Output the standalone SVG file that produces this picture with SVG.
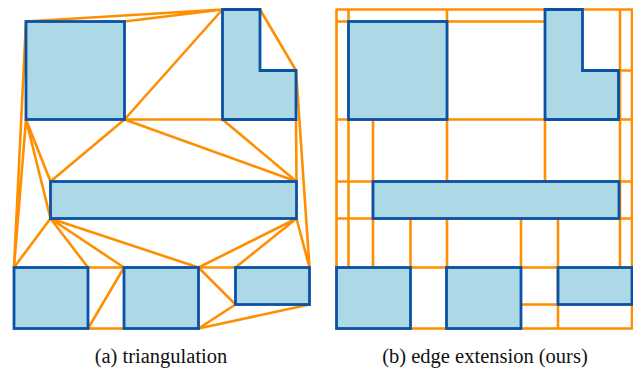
<svg xmlns="http://www.w3.org/2000/svg" width="633" height="372" viewBox="0 0 633 372">
  <style>
    .edge { stroke: #FF8F00; stroke-width: 2.6; fill: none; stroke-linecap: round; }
    .obs { fill: #ADD8E6; stroke: #0A52A5; stroke-width: 2.8; stroke-linejoin: miter; }
    .cap { font-family: "Liberation Serif", "Times New Roman", serif; font-size: 20.5px; fill: #111; text-anchor: middle; }
  </style>

  <!-- (a) triangulation -->
  <g id="panel-a">
    <g id="connectors-a">
      <path class="edge" d="
        M26,21.5 L222.5,9.5
        M124.5,21.5 L222.5,9.5
        M222.5,9.5 L124.5,119.5
        M260,9.5 L296,70.5
        M124.5,119.5 L222.5,119.5
        M124.5,119.5 L296.5,181.5
        M222.5,119.5 L296.5,181.5
        M296,119.5 L296.5,181.5
        M296,70.5 L309.5,267.5
        M296.5,218.5 L309.5,267.5
        M26,21.5 L14,267.5
        M26,119.5 L14,267.5
        M26,119.5 L50.5,181.5
        M26,119.5 L50.5,218.5
        M124.5,119.5 L50.5,181.5
        M50.5,218.5 L14,267.5
        M50.5,218.5 L88,267.5
        M50.5,218.5 L124,267.5
        M50.5,218.5 L198.5,267.5
        M296.5,218.5 L198.5,267.5
        M296.5,218.5 L235.5,267.5
        M88,267.5 L124,267.5
        M198.5,267.5 L235.5,267.5
        M124,267.5 L88,328.5
        M88,328.5 L124,328.5
        M198.5,267.5 L235.5,304.5
        M198.5,328.5 L235.5,304.5
        M198.5,328.5 L309.5,304.5"/>
    </g>
    <g id="a-square"><rect class="obs" x="26" y="21.5" width="98.5" height="98"/></g>
    <g id="a-lshape"><polygon class="obs" points="222.5,9.5 260,9.5 260,70.5 296,70.5 296,119.5 222.5,119.5"/></g>
    <g id="a-bar"><rect class="obs" x="50.5" y="181.5" width="246" height="37"/></g>
    <g id="a-box1"><rect class="obs" x="14" y="267.5" width="74" height="61"/></g>
    <g id="a-box2"><rect class="obs" x="124" y="267.5" width="74.5" height="61"/></g>
    <g id="a-box3"><rect class="obs" x="235.5" y="267.5" width="74" height="37"/></g>
    <text class="cap" x="161" y="363">(a) triangulation</text>
  </g>

  <!-- (b) edge extension -->
  <g id="panel-b" transform="translate(322.5,0)">
    <g id="connectors-b">
      <path class="edge" d="
        M14,9.5 L309.5,9.5
        M14,9.5 L14,267.5
        M309.5,9.5 L309.5,328.5
        M14,328.5 L309.5,328.5
        M14,21.5 L222.5,21.5
        M26,9.5 L26,267.5
        M124.5,9.5 L124.5,267.5
        M14,119.5 L309.5,119.5
        M50.5,119.5 L50.5,267.5
        M222.5,119.5 L222.5,181.5
        M297.5,9.5 L297.5,267.5
        M260,70.5 L309.5,70.5
        M14,181.5 L309.5,181.5
        M14,218.5 L309.5,218.5
        M88,218.5 L88,267.5
        M198.5,218.5 L198.5,267.5
        M235.5,218.5 L235.5,328.5
        M88,267.5 L235.5,267.5
        M198.5,304.5 L235.5,304.5"/>
    </g>
    <g id="b-square"><rect class="obs" x="26" y="21.5" width="98.5" height="98"/></g>
    <g id="b-lshape"><polygon class="obs" points="222.5,9.5 260,9.5 260,70.5 296,70.5 296,119.5 222.5,119.5"/></g>
    <g id="b-bar"><rect class="obs" x="50.5" y="181.5" width="246" height="37"/></g>
    <g id="b-box1"><rect class="obs" x="14" y="267.5" width="74" height="61"/></g>
    <g id="b-box2"><rect class="obs" x="124" y="267.5" width="74.5" height="61"/></g>
    <g id="b-box3"><rect class="obs" x="235.5" y="267.5" width="74" height="37"/></g>
    <text class="cap" x="162.5" y="363">(b) edge extension (ours)</text>
  </g>
</svg>
